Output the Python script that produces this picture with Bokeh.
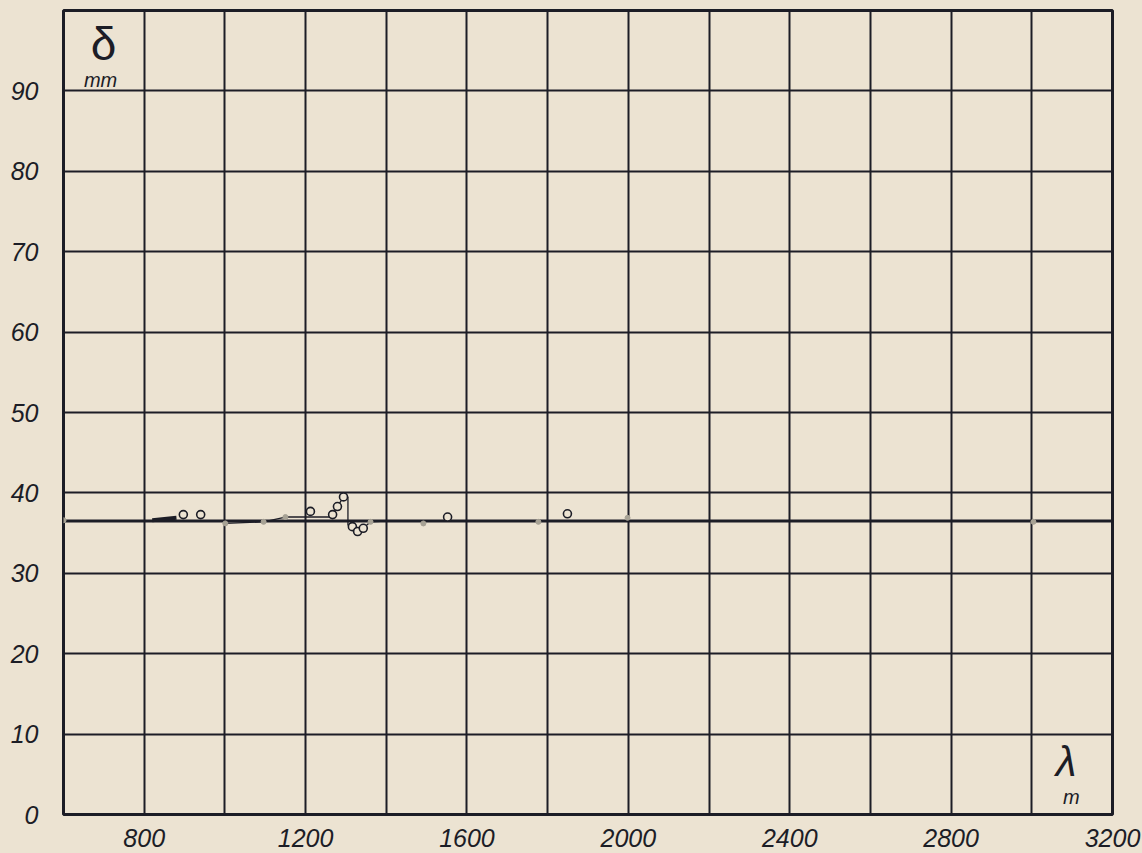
from bokeh.plotting import figure
from bokeh.models import FixedTicker, Label, Range1d
from bokeh.embed import file_html
from bokeh.resources import INLINE

# ---- data ----
x_ticks = [800, 1200, 1600, 2000, 2400, 2800, 3200]
x_grid = [800, 1000, 1200, 1400, 1600, 1800, 2000, 2200, 2400, 2600, 2800, 3000]
y_ticks = [0, 10, 20, 30, 40, 50, 60, 70, 80, 90]
y_grid = [10, 20, 30, 40, 50, 60, 70, 80, 90]

base_x = [600, 3200]
base_y = [36.5, 36.5]

# open circles (measured points)
circ_x = [897, 940, 1212, 1267, 1279, 1294, 1316, 1329, 1343, 1552, 1849]
circ_y = [37.3, 37.3, 37.7, 37.3, 38.3, 39.5, 35.8, 35.2, 35.6, 37.0, 37.4]

# faint grey points on the base line
grey_x = [600, 1001, 1096, 1150, 1361, 1492, 1777, 1998, 3004]
grey_y = [36.6, 36.2, 36.4, 37.0, 36.4, 36.2, 36.4, 36.9, 36.4]

# thin connecting curve
curve_x = [1001, 1096, 1150, 1212, 1262, 1267, 1279, 1294, 1305, 1305, 1316, 1329, 1343, 1361, 1400]
curve_y = [36.2, 36.4, 37.0, 37.0, 37.0, 37.3, 38.3, 39.5, 39.5, 36.0, 35.8, 35.2, 35.6, 36.4, 36.5]

# heavier early segment
early_x = [820, 880]
early_y = [36.6, 36.9]

BG = "#ECE3D2"
INK = "#1c1d26"
FONT = "Liberation Sans"

p = figure(width=1142, height=853, output_backend="svg", toolbar_location=None,
           x_range=Range1d(600, 3200), y_range=Range1d(0, 100),
           min_border_left=63, min_border_right=30, min_border_top=10, min_border_bottom=39)

p.background_fill_color = BG
p.border_fill_color = BG
p.outline_line_color = INK
p.outline_line_width = 3

for ax in (p.xaxis, p.yaxis):
    ax.axis_line_color = None
    ax.major_tick_line_color = None
    ax.minor_tick_line_color = None
    ax.major_label_text_font = FONT
    ax.major_label_text_font_style = "italic"
    ax.major_label_text_font_size = "25px"
    ax.major_label_text_color = INK

p.xaxis.ticker = FixedTicker(ticks=x_ticks)
p.yaxis.ticker = FixedTicker(ticks=y_ticks)
p.xaxis.major_label_standoff = 8
p.yaxis.major_label_standoff = 19

p.xgrid.ticker = FixedTicker(ticks=x_grid)
p.ygrid.ticker = FixedTicker(ticks=y_grid)
for g in (p.xgrid, p.ygrid):
    g.grid_line_color = INK
    g.grid_line_width = 2
    g.grid_line_alpha = 1.0

p.line(base_x, base_y, line_color=INK, line_width=3)
p.line(early_x, early_y, line_color=INK, line_width=4)
p.line(curve_x, curve_y, line_color=INK, line_width=1.3)
p.scatter(grey_x, grey_y, size=5, marker="circle", fill_color="#a7a295", line_color="#a7a295")
p.scatter(circ_x, circ_y, size=8, marker="circle", fill_color=BG, line_color=INK, line_width=1.6)

# axis symbols
p.add_layout(Label(x=699, y=95.8, text="δ", text_font=FONT, text_font_size="46px",
                   text_color=INK, text_align="center", text_baseline="middle"))
p.add_layout(Label(x=692, y=91.3, text="mm", text_font=FONT, text_font_style="italic",
                   text_font_size="20px", text_color=INK, text_align="center", text_baseline="middle"))
p.add_layout(Label(x=3085, y=6.6, text="λ", text_font=FONT, text_font_style="italic",
                   text_font_size="42px", text_color=INK, text_align="center", text_baseline="middle"))
p.add_layout(Label(x=3098, y=2.2, text="m", text_font=FONT, text_font_style="italic",
                   text_font_size="20px", text_color=INK, text_align="center", text_baseline="middle"))

html = file_html(p, INLINE)
html = html.replace("<head>", "<head><style>body{background:%s;}</style>" % BG, 1)
open("out.html", "w").write(html)
